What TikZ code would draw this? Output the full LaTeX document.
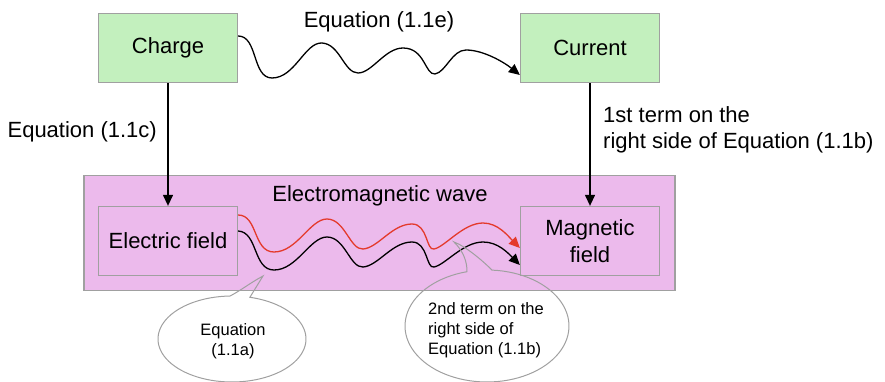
\documentclass[tikz,border=0pt]{standalone}
\usepackage{fontspec}
\setmainfont{Liberation Sans}
\usepackage{tikz}
\usetikzlibrary{arrows.meta,positioning}
\definecolor{BoxGreen}{RGB}{195,240,190}
\definecolor{WavePink}{RGB}{236,186,236}
\definecolor{EdgeGray}{RGB}{160,160,160}
\definecolor{WaveRed}{RGB}{228,58,44}

\begin{document}
\begin{tikzpicture}[x=1pt,y=-1pt,
   qbox/.style={rectangle,draw=EdgeGray,line width=1.3pt,minimum width=139pt,minimum height=69pt,
                inner sep=2pt,align=center,font=\fontsize{22}{26.5}\selectfont},
   lbl/.style={inner sep=0pt,font=\fontsize{22}{26}\selectfont},
   note/.style={inner sep=0pt,font=\fontsize{16.5}{20}\selectfont},
   link/.style={-{Triangle[length=11pt,width=10pt]},line width=1.3pt},
   callout/.style={draw=EdgeGray,line width=1pt}]
  \useasboundingbox (0,0) rectangle (885,382);
  % wave frame and boxes
  \node[rectangle,draw=EdgeGray,fill=WavePink,line width=1.3pt,minimum width=591pt,minimum height=115pt] (emwave) at (379.5,233) {};
  \node[lbl] (emlabel) at (380,196) {Electromagnetic wave};
  \node[qbox,fill=BoxGreen] (charge)  at (168,48)  {Charge};
  \node[qbox,fill=BoxGreen] (current) at (590,48)  {Current};
  \node[qbox] (efield) at (168,241) {Electric field};
  \node[qbox] (mfield) at (590,241) {Magnetic\\field};
  \draw[link] (charge) -- (efield);
  \draw[link] (current) -- (mfield);
  \node[lbl,anchor=east] (eqc) at (157,132) {Equation (1.1c)};
  \node[lbl,anchor=west,align=left] (firstterm) at (603,130) {1st term on the\\right side of Equation (1.1b)};
  \node[lbl] (eqe) at (379,22) {Equation (1.1e)};
  % wavy links
  \draw[link] ([yshift=12pt]charge.east) .. controls (258,36) and (252,78) .. (272,78)
     .. controls (295,78) and (305,42) .. (322,43) .. controls (340,44) and (344,73) .. (358,73)
     .. controls (372,73) and (385,48) .. (403,48) .. controls (425,48) and (425,75) .. (435,74)
     .. controls (446,72) and (452,50) .. (466,50) .. controls (484,50) and (505,63) .. ([yshift=-27pt]current.west);
  \draw[link,WaveRed] ([yshift=26pt]efield.east) .. controls (258,215) and (253,252) .. (274,252)
     .. controls (297,252) and (310,219) .. (327,219) .. controls (345,219) and (350,250) .. (363,249)
     .. controls (378,248) and (392,224) .. (412,224) .. controls (428,224) and (426,251) .. (434,249)
     .. controls (445,247) and (463,223) .. (483,223) .. controls (498,223) and (508,236) .. ([yshift=-7pt]mfield.west);
  \draw[link] ([yshift=10pt]efield.east) .. controls (258,232) and (253,270) .. (274,270)
     .. controls (297,270) and (310,237) .. (327,237) .. controls (345,237) and (350,268) .. (363,267)
     .. controls (378,266) and (392,242) .. (412,242) .. controls (428,242) and (426,269) .. (434,267)
     .. controls (445,265) and (463,242) .. (483,242) .. controls (498,242) and (508,253) .. ([yshift=-24pt]mfield.west);
  % callouts
  \node[note,align=center] (eqa) at (233,341) {Equation\\(1.1a)};
  \coordinate (tipa) at (263,276);
  \draw[callout] plot[domain=91.5:436,samples=90] ({232+74*cos(\x)},{339-43*sin(\x)}) -- (tipa)
     .. controls (250,283) and (240,291) .. (230,296);
  \node[note,align=left,anchor=west] (eqb) at (428,330) {2nd term on the\\right side of\\Equation (1.1b)};
  \coordinate (tipb) at (454,242);
  \draw[callout] plot[domain=104:446.5,samples=90] ({487+82*cos(\x)},{326-56*sin(\x)})
     .. controls (482,260) and (465,246) .. (tipb) .. controls (464,252) and (467,262) .. (467,271.7);
\end{tikzpicture}
\end{document}
